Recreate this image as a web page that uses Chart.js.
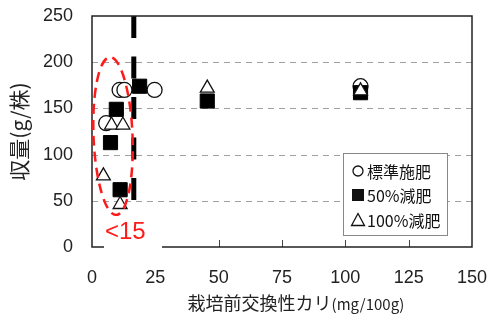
<!DOCTYPE html>
<html>
<head>
<meta charset="utf-8">
<script src="https://cdn.jsdelivr.net/npm/chart.js@4"></script>
<style>
    html, body { margin: 0; padding: 0; background: #fff; }
    #wrap { width: 488px; height: 314px; }
</style>
</head>
<body>
<div id="wrap"><canvas id="kari"></canvas></div>
<script>
// 標準施肥
let hyojunX = [5.6, 10.9, 12.8, 24.7, 106];
let hyojunY = [134, 170, 170, 170, 174];
// 50%減肥
let gen50X = [7.3, 9.6, 11.1, 18.8, 45.5, 106];
let gen50Y = [113, 149, 62, 174, 158, 167];
// 100%減肥
let gen100X = [4.5, 7.7, 12.2, 11.1, 45.5, 106];
let gen100Y = [77, 132, 132, 46, 172, 169];

let xTicks = [0, 25, 50, 75, 100, 125, 150];
let yTicks = [0, 50, 100, 150, 200, 250];
let kijunLine = 16.5;   // 縦の破線
let legendLabels = ["標準施肥", "50%減肥", "100%減肥"];

const fontNum = "'Liberation Sans', Arial, sans-serif";
const fontJp = "'Noto Sans CJK JP', sans-serif";

function toPoints(xs, ys) {
    let pts = [];
    for (let i = 0; i < xs.length; i++) {
        pts.push({x: xs[i], y: ys[i]});
    }
    return pts;
}

// 目盛りラベル分の自動余白を消す
function noAutoPadding(scale) {
    scale.paddingTop = 0;
    scale.paddingBottom = 0;
    scale.paddingLeft = 0;
    scale.paddingRight = 0;
}

// 枠線・目盛り・楕円・凡例など
const extras = {
    id: "extras",
    beforeDatasetsDraw(chart) {
        let ctx = chart.ctx;
        let sx = chart.scales.x, sy = chart.scales.y;
        let a = chart.chartArea;
        ctx.save();
        // 横の破線グリッド
        ctx.strokeStyle = "#a0a0a0";
        ctx.lineWidth = 1.2;
        ctx.setLineDash([6, 5]);
        for (let v of yTicks) {
            if (v === 0 || v === 250) continue;
            let py = Math.round(sy.getPixelForValue(v)) + 0.5;
            ctx.beginPath();
            ctx.moveTo(a.left, py);
            ctx.lineTo(a.right, py);
            ctx.stroke();
        }
        ctx.setLineDash([]);
        // 内向きの目盛り
        ctx.strokeStyle = "#444";
        ctx.lineWidth = 1;
        for (let v of xTicks) {
            if (v === 0 || v === 150) continue;
            let px = Math.round(sx.getPixelForValue(v)) + 0.5;
            ctx.beginPath();
            ctx.moveTo(px, a.bottom);
            ctx.lineTo(px, a.bottom - 7);
            ctx.stroke();
        }
        ctx.restore();
    },
    afterDraw(chart) {
        let ctx = chart.ctx;
        let sx = chart.scales.x, sy = chart.scales.y;
        let a = chart.chartArea;
        ctx.save();

        // 外枠
        ctx.strokeStyle = "#222";
        ctx.lineWidth = 1.5;
        ctx.strokeRect(a.left, a.top, a.right - a.left, a.bottom - a.top);

        // 赤い破線の楕円
        let cx = sx.getPixelForValue(8.3);
        let cy = sy.getPixelForValue(120);
        let rx = sx.getPixelForValue(8.3 + 7.7) - cx;
        let ry = cy - sy.getPixelForValue(120 + 85.5);
        ctx.strokeStyle = "#ff1a1a";
        ctx.lineWidth = 2.5;
        ctx.setLineDash([10, 6]);
        ctx.beginPath();
        ctx.ellipse(cx, cy, rx, ry, -0.04, 0, Math.PI * 2);
        ctx.stroke();
        ctx.setLineDash([]);

        // <15 ラベル（白背景）
        ctx.fillStyle = "#fff";
        ctx.fillRect(104, 216, 58, 34);
        ctx.fillStyle = "#ff1a1a";
        ctx.font = "24px " + fontNum;
        ctx.textBaseline = "middle";
        ctx.textAlign = "left";
        ctx.fillText("<15", 105, 232);

        // 凡例
        let lx = 343, ly = 153, lw = 104, lh = 82;
        ctx.fillStyle = "#fff";
        ctx.fillRect(lx, ly, lw, lh);
        ctx.strokeStyle = "#888";
        ctx.lineWidth = 1;
        ctx.strokeRect(lx + 0.5, ly + 0.5, lw, lh);
        let rows = [171, 195, 220];
        let mx = 358;
        ctx.fillStyle = "#111";
        ctx.strokeStyle = "#111";
        ctx.lineWidth = 1.3;
        // ○
        ctx.beginPath();
        ctx.arc(mx, rows[0], 5, 0, Math.PI * 2);
        ctx.stroke();
        // ■
        ctx.fillRect(mx - 6, rows[1] - 6, 12, 12);
        // △
        ctx.beginPath();
        ctx.moveTo(mx, rows[2] - 6.5);
        ctx.lineTo(mx + 6.5, rows[2] + 5.5);
        ctx.lineTo(mx - 6.5, rows[2] + 5.5);
        ctx.closePath();
        ctx.stroke();
        ctx.font = "16px " + fontJp;
        ctx.textBaseline = "middle";
        for (let i = 0; i < legendLabels.length; i++) {
            ctx.fillText(legendLabels[i], 367, rows[i] + 1);
        }

        // X軸タイトル
        ctx.fillStyle = "#222";
        ctx.textBaseline = "middle";
        ctx.font = "18px " + fontJp;
        let t1 = "栽培前交換性カリ";
        let w1 = ctx.measureText(t1).width;
        ctx.font = "15px " + fontJp;
        let t2 = "(mg/100g)";
        let w2 = ctx.measureText(t2).width;
        let startX = 296 - (w1 + w2) / 2;
        ctx.font = "18px " + fontJp;
        ctx.fillText(t1, startX, 303);
        ctx.font = "15px " + fontJp;
        ctx.fillText(t2, startX + w1, 304);

        ctx.restore();
    }
};

new Chart("kari", {
    type: "scatter",
    data: {
        datasets: [
            {
                label: "基準",
                type: "line",
                data: [{x: kijunLine, y: 250}, {x: kijunLine, y: 0}],
                borderColor: "#000",
                borderWidth: 5,
                borderDash: [22, 18.5],
                borderCapStyle: "butt",
                pointRadius: 0,
                order: 4
            },
            {
                label: legendLabels[0],
                data: toPoints(hyojunX, hyojunY),
                pointStyle: "circle",
                pointRadius: 7.5,
                backgroundColor: "#fff",
                borderColor: "#111",
                borderWidth: 1.3,
                order: 3
            },
            {
                label: legendLabels[1],
                data: toPoints(gen50X, gen50Y),
                pointStyle: "rect",
                pointRadius: 10,
                backgroundColor: "#000",
                borderColor: "#000",
                borderWidth: 1,
                order: 2
            },
            {
                label: legendLabels[2],
                data: toPoints(gen100X, gen100Y),
                pointStyle: "triangle",
                pointRadius: 8,
                backgroundColor: "#fff",
                borderColor: "#111",
                borderWidth: 1.3,
                order: 1
            }
        ]
    },
    options: {
        responsive: true,
        maintainAspectRatio: false,
        animation: false,
        layout: { padding: { top: 16, right: 16, left: 0, bottom: 0 } },
        plugins: {
            legend: { display: false },
            tooltip: { enabled: false }
        },
        scales: {
            x: {
                type: "linear",
                min: 0,
                max: 150,
                afterBuildTicks(scale) { scale.ticks = xTicks.map(v => ({value: v})); },
                afterFit(scale) { scale.height = 67; noAutoPadding(scale); },
                grid: { display: false, drawTicks: false },
                border: { display: false },
                ticks: {
                    color: "#222",
                    padding: 20,
                    font: { family: fontNum, size: 18 }
                }
            },
            y: {
                min: 0,
                max: 250,
                afterBuildTicks(scale) { scale.ticks = yTicks.map(v => ({value: v})); },
                afterFit(scale) { scale.width = 92; noAutoPadding(scale); },
                grid: { display: false, drawTicks: false },
                border: { display: false },
                ticks: {
                    color: "#222",
                    padding: 19,
                    font: { family: fontNum, size: 18 }
                },
                title: {
                    display: true,
                    text: "収量(g/株)",
                    color: "#222",
                    padding: { top: 6, bottom: 0 },
                    font: { family: fontJp, size: 21 }
                }
            }
        }
    },
    plugins: [extras]
});
</script>
</body>
</html>
